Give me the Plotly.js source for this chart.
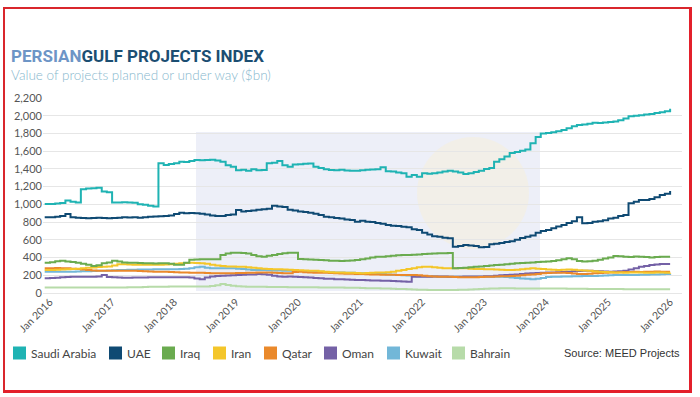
<!DOCTYPE html>
<html>
<head>
<meta charset="utf-8">
<script src="https://cdn.plot.ly/plotly-3.0.1.min.js"></script>
<style>
  html, body { margin: 0; padding: 0; background: #ffffff; }
  #wrap { position: relative; width: 700px; height: 397px; }
  #chart { position: absolute; left: 0; top: 0; width: 700px; height: 397px; }
  #frame { position: absolute; left: 3px; top: 7px; width: 684px; height: 381px;
           border-left: 2px solid #d9262c; border-top: 2px solid #d9262c;
           border-right: 3px solid #e3202b; border-bottom: 3px solid #e3202b;
           pointer-events: none; }
</style>
</head>
<body>
<div id="wrap">
  <div id="chart"></div>
  <div id="frame"></div>
</div>
<script>
// Monthly readings, Dec 2015 ... Jan 2026 ($bn)
const countries = ['Saudi Arabia', 'UAE', 'Iraq', 'Iran', 'Qatar', 'Oman', 'Kuwait', 'Bahrain'];
const colors = ['#1fb3b3', '#0f4a73', '#6aab4f', '#f4c62a', '#ea892b', '#7461a6', '#72b7d8', '#b7dba9'];

const saudiArabia = [1004,
  1005, 1010, 1015, 1045, 1030, 1020, 1170, 1180, 1183, 1188, 1145, 1138,
  1020, 1022, 1025, 1022, 1018, 1000, 995, 985, 975, 1465, 1445, 1455,
  1465, 1481, 1478, 1490, 1500, 1498, 1500, 1502, 1495, 1480, 1440, 1425,
  1385, 1390, 1380, 1395, 1385, 1388, 1465, 1470, 1488, 1440, 1425, 1450,
  1452, 1458, 1462, 1425, 1410, 1395, 1387, 1385, 1390, 1382, 1378, 1380,
  1385, 1390, 1392, 1395, 1418, 1375, 1370, 1360, 1350, 1312, 1330, 1312,
  1350, 1345, 1352, 1360, 1370, 1380, 1372, 1360, 1342, 1350, 1365, 1380,
  1400, 1410, 1480, 1510, 1540, 1580, 1590, 1605, 1618, 1690, 1760, 1800,
  1805, 1815, 1825, 1840, 1860, 1880, 1895, 1900, 1910, 1920, 1918, 1925,
  1930, 1935, 1950, 1970, 1995, 2000, 2005, 2015, 2020, 2030, 2040, 2050,
  2080];

const uae = [855,
  855, 860, 870, 890, 855, 850, 845, 843, 845, 848, 845, 843,
  845, 850, 855, 852, 854, 850, 855, 860, 862, 865, 869, 875,
  890, 905, 900, 902, 900, 895, 885, 875, 870, 869, 880, 885,
  936, 920, 925, 930, 940, 945, 950, 985, 975, 970, 940, 930,
  920, 915, 906, 895, 880, 861, 855, 845, 840, 830, 823, 805,
  815, 805, 800, 790, 780, 767, 760, 755, 748, 741, 720, 711,
  680, 660, 640, 635, 622, 617, 522, 530, 541, 535, 530, 515,
  520, 550, 556, 565, 575, 585, 600, 620, 635, 650, 680, 700,
  711, 730, 750, 767, 790, 810, 854, 786, 790, 805, 810, 820,
  840, 850, 870, 880, 1012, 1030, 1049, 1050, 1060, 1080, 1105, 1120,
  1150];

const iraq = [342,
  348, 358, 364, 355, 350, 340, 330, 318, 305, 312, 335, 345,
  364, 355, 345, 342, 340, 338, 336, 335, 334, 335, 335, 330,
  320, 318, 340, 375, 378, 380, 380, 382, 380, 429, 445, 455,
  455, 450, 445, 430, 415, 410, 420, 430, 440, 448, 455, 455,
  385, 380, 378, 375, 372, 370, 365, 364, 362, 365, 368, 372,
  380, 390, 400, 410, 410, 415, 420, 425, 428, 430, 432, 435,
  440, 442, 445, 448, 448, 450, 279, 282, 285, 290, 297, 300,
  305, 310, 316, 320, 325, 330, 335, 338, 340, 345, 350, 352,
  354, 360, 370, 380, 391, 380, 360, 354, 358, 365, 375, 390,
  400, 417, 415, 410, 405, 412, 410, 405, 400, 405, 410, 410,
  410];

const iran = [259,
  260, 262, 265, 268, 270, 275, 280, 285, 288, 292, 297, 300,
  310, 325, 325, 322, 320, 320, 318, 318, 320, 320, 322, 325,
  330, 335, 338, 340, 338, 336, 330, 320, 310, 305, 300, 298,
  297, 295, 290, 285, 280, 275, 270, 268, 267, 265, 262, 260,
  258, 255, 252, 250, 245, 240, 235, 232, 230, 229, 228, 226,
  222, 225, 228, 230, 232, 235, 240, 250, 259, 270, 280, 290,
  297, 295, 290, 285, 280, 279, 279, 280, 279, 275, 272, 270,
  267, 267, 265, 262, 260, 260, 262, 268, 275, 279, 275, 270,
  265, 262, 260, 262, 265, 262, 258, 255, 250, 245, 241, 238,
  235, 232, 230, 228, 230, 232, 230, 228, 229, 230, 230, 228,
  229];

const qatar = [279,
  280, 282, 279, 278, 275, 270, 265, 260, 255, 252, 252, 252,
  252, 250, 250, 252, 250, 248, 245, 242, 241, 240, 240, 238,
  235, 232, 230, 229, 229, 228, 226, 224, 222, 222, 222, 224,
  226, 226, 228, 229, 230, 232, 232, 228, 225, 222, 222, 238,
  241, 235, 230, 228, 229, 228, 225, 222, 220, 218, 216, 214,
  214, 212, 210, 208, 207, 206, 205, 204, 203, 203, 202, 200,
  195, 190, 186, 184, 184, 182, 180, 178, 177, 177, 178, 180,
  182, 184, 186, 188, 190, 192, 195, 200, 205, 210, 215, 222,
  226, 229, 229, 228, 225, 220, 214, 214, 218, 222, 226, 228,
  230, 232, 235, 236, 238, 240, 238, 240, 241, 242, 240, 241,
  241];

const oman = [166,
  168, 172, 177, 180, 184, 184, 184, 184, 184, 186, 203, 180,
  177, 175, 173, 173, 174, 175, 176, 177, 177, 177, 177, 177,
  177, 177, 177, 176, 165, 155, 175, 185, 192, 195, 198, 200,
  203, 205, 208, 210, 214, 212, 205, 195, 185, 184, 185, 183,
  180, 178, 175, 170, 166, 162, 160, 156, 154, 152, 150, 148,
  147, 145, 142, 140, 139, 138, 136, 132, 130, 128, 184, 184,
  184, 184, 185, 185, 185, 184, 184, 184, 185, 186, 186, 186,
  188, 190, 195, 200, 203, 205, 210, 215, 220, 222, 225, 228,
  230, 232, 235, 238, 241, 245, 248, 250, 250, 248, 245, 243,
  241, 242, 245, 250, 265, 280, 297, 305, 315, 322, 327, 327,
  327];

const kuwait = [241,
  241, 241, 241, 241, 241, 242, 244, 246, 248, 250, 252, 255,
  258, 259, 260, 262, 262, 264, 265, 266, 267, 267, 268, 268,
  267, 270, 275, 279, 290, 297, 285, 280, 279, 279, 279, 279,
  275, 270, 265, 260, 259, 259, 257, 255, 254, 252, 252, 250,
  248, 245, 242, 241, 240, 238, 235, 232, 230, 229, 228, 226,
  224, 222, 220, 217, 214, 210, 206, 203, 200, 197, 194, 190,
  188, 186, 185, 184, 184, 184, 184, 184, 184, 184, 184, 184,
  184, 184, 184, 183, 180, 175, 170, 165, 160, 155, 160, 170,
  180, 184, 184, 185, 186, 188, 190, 192, 192, 193, 195, 197,
  200, 202, 203, 203, 203, 204, 205, 206, 208, 210, 212, 213,
  214];

const bahrain = [62,
  62, 62, 62, 62, 62, 62, 62, 62, 62, 62, 62, 62,
  62, 62, 63, 64, 65, 66, 68, 70, 70, 71, 71, 72,
  72, 72, 72, 72, 73, 72, 74, 80, 88, 101, 90, 82,
  75, 72, 71, 71, 70, 70, 69, 68, 68, 67, 66, 66,
  65, 65, 64, 64, 63, 63, 62, 62, 61, 60, 60, 58,
  56, 55, 54, 53, 52, 50, 48, 46, 44, 42, 40, 38,
  36, 35, 35, 34, 34, 34, 35, 36, 38, 40, 42, 45,
  48, 50, 52, 53, 53, 53, 52, 52, 51, 50, 50, 50,
  50, 50, 50, 50, 49, 48, 48, 47, 46, 46, 45, 45,
  45, 44, 44, 43, 43, 42, 42, 42, 41, 41, 41, 41,
  41];

const yTickVals = [0, 200, 400, 600, 800, 1000, 1200, 1400, 1600, 1800, 2000, 2200];

// month axis: Dec 2015 .. Jan 2026
const months = [];
for (let m = -1; m <= 120; m++) {
  const y = 2016 + Math.floor(m / 12);
  const mo = ((m % 12) + 12) % 12 + 1;
  months.push(y + '-' + String(mo).padStart(2, '0') + '-01');
}

const series = [saudiArabia, uae, iraq, iran, qatar, oman, kuwait, bahrain];

const traces = [];
for (let i = series.length - 1; i >= 0; i--) {
  traces.push({
    type: 'scatter', mode: 'lines', x: months, y: series[i],
    name: countries[i], showlegend: false,
    line: { color: colors[i], width: 2, shape: 'hv' }
  });
}

const L = 43, R = 682, T = 98, B = 293;
const px = v => (v - L) / (R - L);
const py = v => (B - v) / (B - T);

// legend key positions (pixels, left edge of square)
const legendX = [13, 109, 162, 213, 264, 324, 387, 452];
const legendY = 353;

const shapes = [
  { type: 'rect', xref: 'paper', yref: 'paper', layer: 'below',
    x0: px(196), x1: px(540), y0: py(291), y1: py(132),
    fillcolor: 'rgba(220,224,241,0.5)', line: { width: 0 } },
  { type: 'circle', xref: 'paper', yref: 'paper', layer: 'below',
    x0: px(417), x1: px(529), y0: py(249), y1: py(137),
    fillcolor: 'rgba(248,240,212,0.45)', line: { width: 0 } }
];
const annotations = [
  { xref: 'paper', yref: 'paper', x: px(9), y: py(56), xanchor: 'left', yanchor: 'middle',
    showarrow: false,
    text: '<b><span style="color:#6d95c6">PERSIAN</span>GULF PROJECTS INDEX</b>',
    font: { family: 'Roboto, sans-serif', size: 17, color: '#1b4e72' } },
  { xref: 'paper', yref: 'paper', x: px(9), y: py(75), xanchor: 'left', yanchor: 'middle',
    showarrow: false,
    text: 'Value of projects planned or under way ($bn)',
    font: { family: 'Lato, sans-serif', size: 13.5, color: '#86b7cd', weight: 300 } },
  { xref: 'paper', yref: 'paper', x: px(682), y: py(legendY), xanchor: 'right', yanchor: 'middle',
    showarrow: false, text: 'Source: MEED Projects',
    font: { family: 'Liberation Sans, Arial, sans-serif', size: 11, color: '#333' } }
];
for (let i = 0; i < countries.length; i++) {
  shapes.push({ type: 'rect', xref: 'paper', yref: 'paper',
    x0: px(legendX[i]), x1: px(legendX[i] + 13), y0: py(legendY + 6.5), y1: py(legendY - 6.5),
    fillcolor: colors[i], line: { width: 0 } });
  annotations.push({ xref: 'paper', yref: 'paper', x: px(legendX[i] + 16), y: py(legendY),
    xanchor: 'left', yanchor: 'middle', showarrow: false, text: countries[i],
    font: { family: 'Lato, sans-serif', size: 12, color: '#444' } });
}

const layout = {
  width: 700, height: 397,
  margin: { l: L, r: 700 - R, t: T, b: 397 - B },
  paper_bgcolor: 'rgba(0,0,0,0)', plot_bgcolor: 'rgba(0,0,0,0)',
  font: { family: 'Lato, sans-serif', color: '#555' },
  showlegend: false,
  xaxis: {
    type: 'date', range: ['2015-11-21', '2026-03-12'],
    tick0: '2016-01-01', dtick: 'M12', tickformat: '%b %Y',
    tickangle: -45, showgrid: false, zeroline: false, showline: false,
    ticks: '', tickfont: { size: 10.5, color: '#555', family: 'Lato, sans-serif' }
  },
  yaxis: {
    range: [0, 2200], tickvals: yTickVals, tickformat: ',d',
    showgrid: true, gridcolor: '#e6e6e6', gridwidth: 1,
    zeroline: true, zerolinecolor: '#e6e6e6', zerolinewidth: 1,
    showline: false, ticks: '',
    tickfont: { size: 11, color: '#555', family: 'Lato, sans-serif' }
  },
  shapes: shapes,
  annotations: annotations
};

Plotly.newPlot('chart', traces, layout, { displayModeBar: false, staticPlot: true });
</script>
</body>
</html>
